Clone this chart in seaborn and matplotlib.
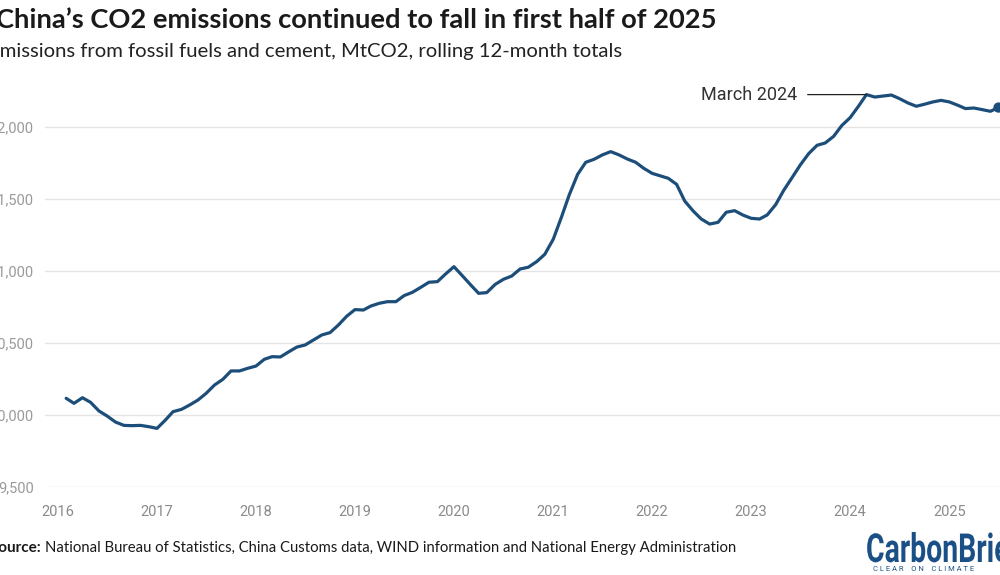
import matplotlib.dates as mdates
import matplotlib.pyplot as plt
import pandas as pd
import seaborn as sns
from matplotlib.font_manager import FontProperties
from matplotlib.patches import PathPatch
from matplotlib.textpath import TextPath
from matplotlib.transforms import Affine2D

# Rolling 12-month CO2 totals (MtCO2), monthly from Feb 2016.
EMISSIONS_2016 = [10116, 10081, 10120, 10088, 10028, 9993, 9951, 9928, 9926, 9928, 9919]
EMISSIONS_2017 = [9907, 9965, 10023, 10039, 10069, 10104, 10150, 10208, 10248, 10306, 10306, 10324]
EMISSIONS_2018 = [10340, 10387, 10405, 10403, 10438, 10472, 10486, 10521, 10556, 10572, 10625, 10685]
EMISSIONS_2019 = [10732, 10729, 10757, 10776, 10787, 10787, 10829, 10852, 10887, 10922, 10926, 10979]
EMISSIONS_2020 = [11030, 10967, 10907, 10845, 10850, 10907, 10942, 10965, 11014, 11026, 11065, 11116]
EMISSIONS_2021 = [11220, 11377, 11528, 11671, 11755, 11776, 11806, 11829, 11806, 11778, 11755, 11713]
EMISSIONS_2022 = [11678, 11660, 11644, 11602, 11486, 11417, 11361, 11326, 11338, 11408, 11419, 11389]
EMISSIONS_2023 = [11366, 11361, 11389, 11460, 11560, 11649, 11736, 11815, 11873, 11889, 11935, 12010]
EMISSIONS_2024 = [12065, 12145, 12225, 12208, 12215, 12222, 12197, 12167, 12144, 12158, 12174, 12185]
EMISSIONS_2025 = [12174, 12151, 12128, 12132, 12121, 12109, 12135]

START_MONTH = "2016-02-01"
Y_TICKS = [9500, 10000, 10500, 11000, 11500, 12000]
PEAK_DATE = "2024-03-01"
PEAK_LABEL = "March 2024"

TITLE = "China\u2019s CO2 emissions continued to fall in first half of 2025"
SUBTITLE = "Emissions from fossil fuels and cement, MtCO2, rolling 12-month totals"
SOURCE = ("National Bureau of Statistics, China Customs data, WIND information "
          "and National Energy Administration")

LINE_COLOR = "#1d4e7a"
LOGO_COLOR = "#1b5087"
W, H = 1000, 575


def fx(px):
    return px / W


def fy(py):
    return 1 - py / H


values = (EMISSIONS_2016 + EMISSIONS_2017 + EMISSIONS_2018 + EMISSIONS_2019
          + EMISSIONS_2020 + EMISSIONS_2021 + EMISSIONS_2022 + EMISSIONS_2023
          + EMISSIONS_2024 + EMISSIONS_2025)
df = pd.DataFrame({
    "date": pd.date_range(START_MONTH, periods=len(values), freq="MS"),
    "mtco2": values,
})

sns.set_style("white")
plt.rcParams["font.family"] = ["Roboto", "DejaVu Sans"]

fig = plt.figure(figsize=(10, 5.75), dpi=100)
ax = fig.add_axes([fx(45), fy(487), fx(960), (487 - 83.8) / H])

sns.lineplot(data=df, x="date", y="mtco2", ax=ax, color=LINE_COLOR,
             linewidth=2.3, zorder=3)
sns.scatterplot(data=df.tail(1), x="date", y="mtco2", ax=ax, color=LINE_COLOR,
                s=55, edgecolor="none", zorder=4, clip_on=False)

ax.set_ylim(9500, 12300)
ax.set_xlim(pd.Timestamp("2015-11-15"), pd.Timestamp("2025-07-25"))
ax.set_yticks(Y_TICKS)
ax.set_yticklabels([f"{v:,}" for v in Y_TICKS])
ax.xaxis.set_major_locator(mdates.YearLocator())
ax.xaxis.set_major_formatter(mdates.DateFormatter("%Y"))
ax.set_xlabel("")
ax.set_ylabel("")

ax.grid(axis="y", color="#e4e4e4", linewidth=1)
ax.set_axisbelow(True)
for s in ax.spines.values():
    s.set_visible(False)
ax.tick_params(axis="y", length=0, pad=8, labelsize=10.5, labelcolor="#9a9a9a")
ax.tick_params(axis="x", length=6, width=1.1, color="#444444", pad=7,
               labelsize=10.5, labelcolor="#8a8a8a", direction="out")

# "March 2024" peak call-out
peak = df.loc[df["date"] == pd.Timestamp(PEAK_DATE)].iloc[0]
ax.annotate(PEAK_LABEL, xy=(peak["date"], peak["mtco2"]),
            xytext=(-69, 0), textcoords="offset pixels", ha="right", va="center",
            fontsize=13, color="#333333",
            arrowprops=dict(arrowstyle="-", color="#222222", lw=0.9,
                            shrinkA=5, shrinkB=0))

fig.text(fx(-4), fy(20), TITLE, fontsize=19.7, fontweight="bold",
         family=["Lato", "DejaVu Sans"], color="#1a1a1a", va="center")
fig.text(fx(-12), fy(51), SUBTITLE, fontsize=14.6,
         family=["Lato", "DejaVu Sans"], color="#222222", va="center")
fig.text(fx(41), fy(548), "Source:", fontsize=11, fontweight="bold",
         family=["Lato", "DejaVu Sans"], color="#1a1a1a", va="center", ha="right")
fig.text(fx(45), fy(548), SOURCE, fontsize=10.7,
         family=["Lato", "DejaVu Sans"], color="#1a1a1a", va="center")

# CarbonBrief logo as squeezed text
logo = TextPath((0, 0), "CarbonBrief", size=40,
                prop=FontProperties(family="Roboto", weight="bold"))
fig.patches.append(PathPatch(logo, color=LOGO_COLOR, lw=0,
                             transform=Affine2D().scale(0.71, 1.0).translate(866, 575 - 562)))
fig.text(fx(873), fy(569), "C L E A R    O N    C L I M A T E", fontsize=5.5,
         color=LOGO_COLOR, va="center")

fig.savefig("out.png", dpi=100)
